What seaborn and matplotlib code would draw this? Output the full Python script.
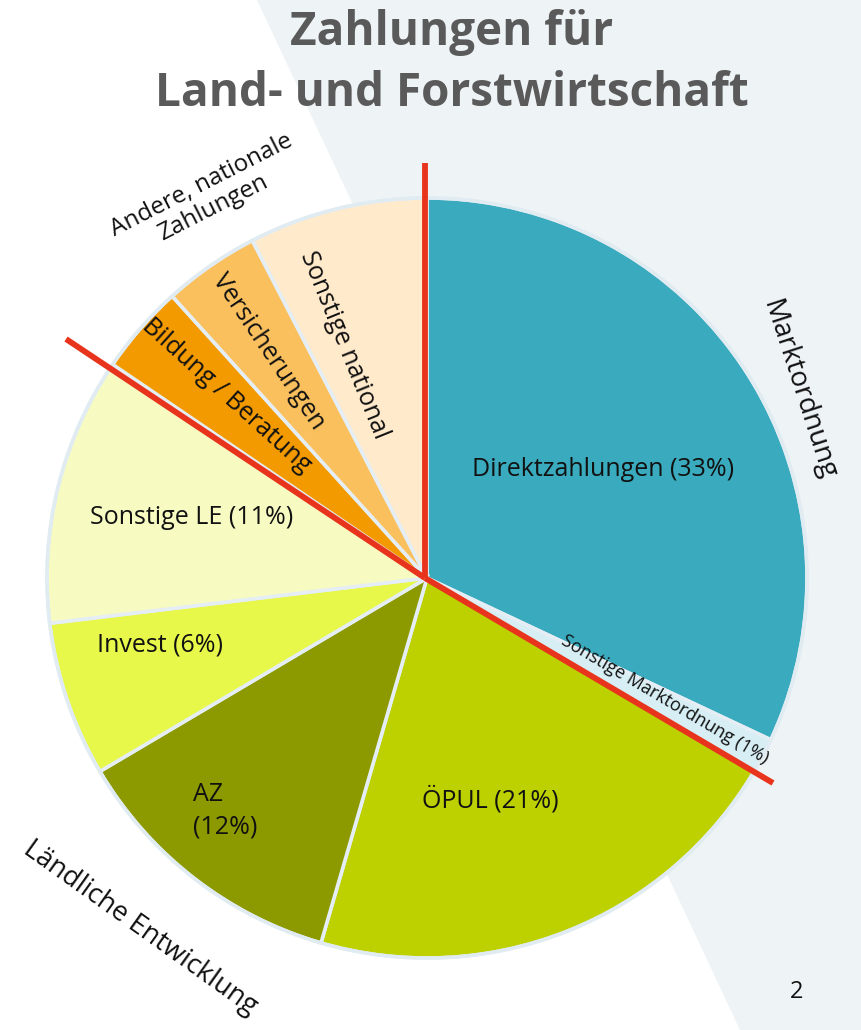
import matplotlib
matplotlib.use("Agg")
import matplotlib.pyplot as plt
import seaborn as sns
import numpy as np
from matplotlib.patches import Polygon

sns.set_theme(style="white")
plt.rcParams['font.family'] = ['Open Sans', 'DejaVu Sans']

# ---- data ----
categories = ["Direktzahlungen", "Sonstige Marktordnung", "ÖPUL", "AZ", "Invest",
              "Sonstige LE", "Bildung / Beratung", "Versicherungen", "Sonstige national"]
shares = [32, 1.5, 21, 12, 6.6, 11.4, 3.8, 4.1, 7.6]
labels = ["Direktzahlungen (33%)", "Sonstige Marktordnung (1%)", "ÖPUL (21%)", "AZ\n(12%)",
          "Invest (6%)", "Sonstige LE (11%)", "Bildung / Beratung", "Versicherungen",
          "Sonstige national"]
colors = ["#3AABBE", "#D6EEF4", "#BDD000", "#8C9A00", "#E8F84A",
          "#F7FBC2", "#F39A00", "#FBC05E", "#FFEACB"]
groups = ["Marktordnung", "Ländliche Entwicklung", "Andere, nationale\nZahlungen"]
title_lines = ["Zahlungen für", "Land- und Forstwirtschaft"]

W, H = 861, 1030
fig = plt.figure(figsize=(W / 100, H / 100), dpi=100)
ax = fig.add_axes([0, 0, 1, 1])

def Y(y):
    return H - y

# background diagonal band
ax.add_patch(Polygon([(257, Y(0)), (W, Y(0)), (W, Y(H)), (740, Y(H))],
                     closed=True, facecolor="#EEF3F6", edgecolor="none", zorder=0))

cx, cy, R = 427, 578, 380
wedges, _ = ax.pie(shares, colors=colors, startangle=90, counterclock=False,
                   center=(cx, Y(cy)), radius=R,
                   wedgeprops=dict(edgecolor="#E4EEF4", linewidth=2.6))
circ = plt.Circle((cx, Y(cy)), R, facecolor="none", edgecolor="#E0EBF2", linewidth=2.5, zorder=3)
ax.add_patch(circ)

# red separator lines
red = "#E8341C"
ax.plot([cx - 2, cx - 2], [Y(cy), Y(163)], color=red, lw=4.2, solid_capstyle="butt", zorder=5)
ax.plot([66, cx - 2], [Y(339), Y(cy)], color=red, lw=4.2, solid_capstyle="butt", zorder=5)
ax.plot([cx - 2, 773], [Y(cy), Y(783)], color=red, lw=4.2, solid_capstyle="butt", zorder=5)

fs = 18
tc = "#111111"
ax.text(603, Y(470), labels[0], fontsize=fs, color=tc, ha="center", va="center", zorder=6)
ax.text(665, Y(699), labels[1], fontsize=13, color=tc, ha="center", va="center",
        rotation=-30.5, rotation_mode="anchor", zorder=6)
ax.text(490, Y(800), labels[2], fontsize=fs, color=tc, ha="center", va="center", zorder=6)
ax.text(193, Y(811), labels[3], fontsize=fs, color=tc, ha="left", va="center",
        linespacing=1.4, zorder=6)
ax.text(160, Y(645), labels[4], fontsize=fs, color=tc, ha="center", va="center", zorder=6)
ax.text(192, Y(518), labels[5], fontsize=fs, color=tc, ha="center", va="center", zorder=6)
ax.text(226, Y(396), labels[6], fontsize=fs, color=tc, ha="center", va="center",
        rotation=-42, rotation_mode="anchor", zorder=6)
ax.text(268, Y(352), labels[7], fontsize=fs, color=tc, ha="center", va="center",
        rotation=-56, rotation_mode="anchor", zorder=6)
ax.text(344, Y(345), labels[8], fontsize=fs, color=tc, ha="center", va="center",
        rotation=-68, rotation_mode="anchor", zorder=6)

# group labels
ax.text(798, Y(390), groups[0], fontsize=20, color=tc, ha="center", va="center",
        rotation=-72, rotation_mode="anchor", zorder=6)
ax.text(140, Y(928), groups[1], fontsize=19.5, color=tc, ha="center", va="center",
        rotation=-35.5, rotation_mode="anchor", zorder=6)
ax.text(207, Y(197), groups[2], fontsize=17.5, color=tc, ha="center", va="center",
        rotation=27, rotation_mode="anchor", multialignment="center", linespacing=1.1, zorder=6)

# title
ax.text(452, Y(32), title_lines[0], fontsize=33, fontweight="bold", color="#5A5A5A",
        ha="center", va="center", zorder=6)
ax.text(452, Y(94), title_lines[1], fontsize=33, fontweight="bold", color="#5A5A5A",
        ha="center", va="center", zorder=6)

# page number
ax.text(797, Y(992), "2", fontsize=17, color=tc, ha="center", va="center", zorder=6)

ax.set_xlim(0, W)
ax.set_ylim(0, H)
ax.set_aspect("auto")
ax.axis("off")
fig.savefig("out.png", dpi=100, facecolor="white")
